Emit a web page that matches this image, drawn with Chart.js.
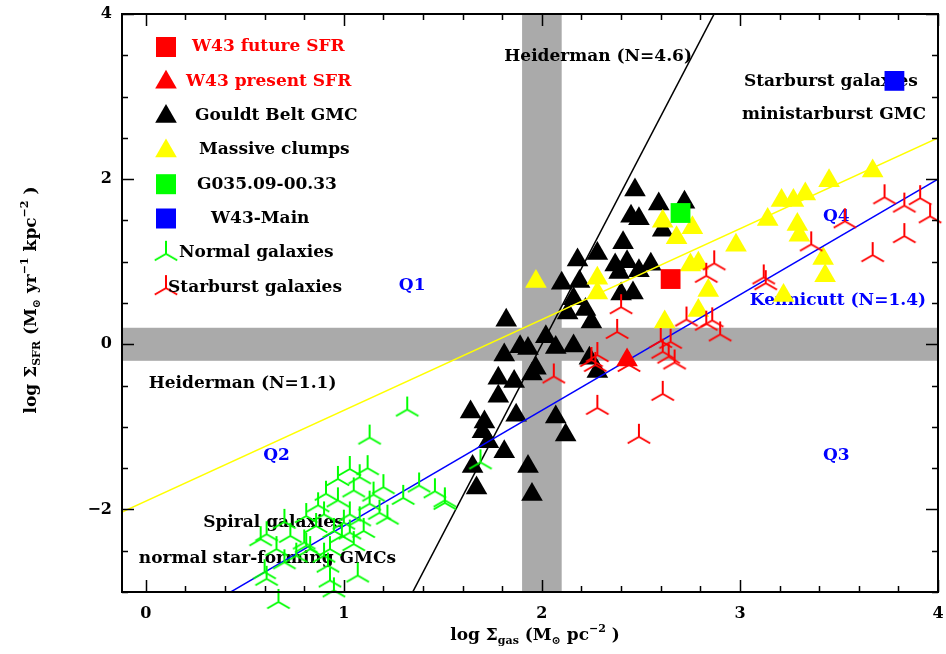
<!DOCTYPE html>
<html>
<head>
<meta charset="utf-8">
<script src="https://cdn.jsdelivr.net/npm/chart.js@4.4.1/dist/chart.umd.min.js"></script>
<style>
  html, body { margin: 0; padding: 0; background: #ffffff; }
  canvas { display: block; }
</style>
</head>
<body>
<canvas id="kschmidt" width="946" height="654"></canvas>
<script>
// ---- axis ranges and tick labels ----
const xRange = [-0.12, 4];
const yRange = [-3, 4];
const xTickValues = [0, 1, 2, 3, 4];
const yTickValues = [-2, 0, 2, 4];

// ---- data: [log Sigma_gas, log Sigma_SFR] ----
const w43Future = [[2.65, 0.79]];
const w43Present = [[2.43, -0.19]];
const g035 = [[2.70, 1.59]];
const w43Main = [[3.78, 3.19]];

const gouldBelt = [
  [2.47, 1.87], [2.59, 1.70], [2.72, 1.72], [2.45, 1.55], [2.49, 1.52], [2.61, 1.38],
  [2.41, 1.23], [2.43, 1.00], [2.49, 0.89], [2.55, 0.97], [2.39, 0.87], [2.37, 0.96],
  [2.46, 0.62], [2.40, 0.61], [2.28, 1.10], [2.18, 1.02], [2.10, 0.74], [2.19, 0.76],
  [2.16, 0.55], [2.22, 0.42], [2.13, 0.38], [2.25, 0.27], [1.82, 0.29], [2.02, 0.09],
  [2.07, -0.04], [2.16, -0.02], [1.89, -0.03], [1.93, -0.05], [1.81, -0.13], [1.97, -0.29],
  [1.95, -0.36], [2.28, -0.33], [2.24, -0.17], [1.78, -0.41], [1.86, -0.45], [1.78, -0.63],
  [1.64, -0.82], [1.71, -0.94], [1.70, -1.06], [1.73, -1.18], [1.87, -0.86], [1.81, -1.30],
  [1.65, -1.48], [1.67, -1.74], [1.93, -1.48], [1.95, -1.82], [2.07, -0.88], [2.12, -1.10]
];

const massiveClumps = [
  [3.67, 2.10], [3.45, 1.98], [3.33, 1.82], [3.27, 1.74], [3.21, 1.74], [3.14, 1.51],
  [3.29, 1.45], [3.30, 1.32], [2.98, 1.20], [3.42, 1.04], [3.43, 0.83], [2.79, 0.98],
  [2.75, 0.96], [2.84, 0.65], [3.22, 0.59], [2.79, 0.41], [2.62, 0.27], [2.61, 1.49],
  [2.76, 1.41], [2.68, 1.29], [1.97, 0.76], [2.28, 0.80], [2.28, 0.62]
];

const normalGalaxies = [
  [1.32, -0.79], [1.13, -1.13], [1.03, -1.51], [1.12, -1.50], [0.97, -1.63], [1.08, -1.61],
  [1.20, -1.73], [1.38, -1.71], [1.46, -1.78], [1.51, -1.92], [1.30, -1.86], [0.91, -1.81],
  [1.05, -1.77], [0.97, -1.89], [1.13, -1.93], [0.90, -2.06], [1.03, -2.06], [1.08, -2.12],
  [1.18, -2.04], [0.81, -2.08], [0.70, -2.15], [0.61, -2.30], [0.73, -2.32], [0.80, -2.40],
  [0.95, -2.26], [1.03, -2.28], [1.10, -2.26], [0.83, -2.48], [0.90, -2.56], [0.93, -2.48],
  [0.99, -2.32], [0.66, -2.48], [0.58, -2.36], [0.60, -2.76], [0.61, -2.84], [0.67, -3.12],
  [1.07, -2.80], [0.93, -2.86], [0.95, -2.98], [0.92, -2.68], [0.81, -2.44], [0.235, -3.55],
  [1.69, -1.43], [1.51, -1.89], [0.86, -2.20], [1.00, -2.16], [0.76, -2.56], [1.15, -1.82],
  [0.87, -1.95], [1.22, -2.10], [1.05, -2.42], [0.70, -2.64]
];

const starburstGalaxies = [
  [3.73, 1.78], [3.83, 1.68], [3.91, 1.77], [3.96, 1.55], [3.53, 1.49], [3.83, 1.31],
  [3.67, 1.08], [3.36, 1.21], [3.12, 0.81], [3.13, 0.74], [2.87, 0.98], [2.83, 0.83],
  [2.86, 0.29], [2.83, 0.25], [2.90, 0.12], [2.73, 0.30], [2.60, 0.04], [2.65, 0.03],
  [2.61, -0.09], [2.64, -0.15], [2.67, -0.22], [2.61, -0.60], [2.40, 0.45], [2.38, 0.15],
  [2.28, -0.13], [2.27, -0.25], [2.25, -0.19], [2.44, -0.25], [2.06, -0.39], [2.28, -0.77],
  [2.49, -1.12]
];

// star-formation relations: log SFR = slope * log gas + intercept
const heiderman11 = { slope: 1.1, intercept: -1.9 };
const kennicutt14 = { slope: 1.4, intercept: -3.6 };
const heiderman46 = { slope: 4.6, intercept: -9.2 };

// threshold bands (log gas ~ 2, log SFR ~ 0)
const gasThreshold = [1.9, 2.1];
const sfrThreshold = [-0.2, 0.2];

// ---- styling helpers ----
const FONT = '"DejaVu Serif"';
const toXY = arr => arr.map(p => ({ x: p[0], y: p[1] }));
const relationLine = r => xRange.map(x => ({ x: x, y: r.slope * x + r.intercept }));

function makeStar(color) {
  const c = document.createElement('canvas');
  c.width = 32; c.height = 32;
  const g = c.getContext('2d');
  g.strokeStyle = color; g.lineWidth = 2;
  const cx = 16, cy = 16, L = 13, s = Math.sin(Math.PI / 3);
  g.beginPath();
  g.moveTo(cx, cy); g.lineTo(cx, cy - L);
  g.moveTo(cx, cy); g.lineTo(cx - L * s, cy + L * 0.5);
  g.moveTo(cx, cy); g.lineTo(cx + L * s, cy + L * 0.5);
  g.stroke();
  return c;
}
const greenStar = makeStar('#00ff00');
const redStar = makeStar('#ff0000');

function fmtTick(v) { return v < 0 ? '\u2212' + Math.abs(v) : String(v); }

// ---- texts inside the plot (positioned in data coordinates) ----
const plotTexts = [
  { t: 'Heiderman (N=4.6)', x: 1.81, y: 3.49, c: '#000000', a: 'left' },
  { t: 'Starburst galaxies', x: 3.02, y: 3.18, c: '#000000', a: 'left' },
  { t: 'ministarburst GMC', x: 3.01, y: 2.78, c: '#000000', a: 'left' },
  { t: 'Q1', x: 1.345, y: 0.71, c: '#0000ff', a: 'center' },
  { t: 'Q4', x: 3.486, y: 1.55, c: '#0000ff', a: 'center' },
  { t: 'Kennicutt (N=1.4)', x: 3.05, y: 0.53, c: '#0000ff', a: 'left' },
  { t: 'Heiderman (N=1.1)', x: 0.015, y: -0.48, c: '#000000', a: 'left' },
  { t: 'Q2', x: 0.66, y: -1.35, c: '#0000ff', a: 'center' },
  { t: 'Q3', x: 3.486, y: -1.35, c: '#0000ff', a: 'center' },
  { t: 'Spiral galaxies', x: 0.29, y: -2.16, c: '#000000', a: 'left' },
  { t: 'normal star-forming GMCs', x: -0.035, y: -2.59, c: '#000000', a: 'left' }
];

// ---- legend entries ----
const legendEntries = [
  { label: 'W43 future SFR', sym: 'square', color: '#ff0000', text: '#ff0000', tx: 192 },
  { label: 'W43 present SFR', sym: 'triangle', color: '#ff0000', text: '#ff0000', tx: 186 },
  { label: 'Gouldt Belt GMC', sym: 'triangle', color: '#000000', text: '#000000', tx: 195 },
  { label: 'Massive clumps', sym: 'triangle', color: '#ffff00', text: '#000000', tx: 199 },
  { label: 'G035.09-00.33', sym: 'square', color: '#00ff00', text: '#000000', tx: 197 },
  { label: 'W43-Main', sym: 'square', color: '#0000ff', text: '#000000', tx: 211 },
  { label: 'Normal galaxies', sym: 'star', img: greenStar, text: '#000000', tx: 179 },
  { label: 'Starburst galaxies', sym: 'star', img: redStar, text: '#000000', tx: 168 }
];

// background bands, texts and legend (under the data)
const underlay = {
  id: 'underlay',
  beforeDatasetsDraw(chart) {
    const { ctx, chartArea: a, scales: { x, y } } = chart;
    ctx.save();
    ctx.fillStyle = '#aaaaaa';
    const bx0 = x.getPixelForValue(gasThreshold[0]), bx1 = x.getPixelForValue(gasThreshold[1]);
    ctx.fillRect(bx0, a.top, bx1 - bx0, a.bottom - a.top);
    const by0 = y.getPixelForValue(sfrThreshold[1]), by1 = y.getPixelForValue(sfrThreshold[0]);
    ctx.fillRect(a.left, by0, a.right - a.left, by1 - by0);

    ctx.font = 'bold 17px ' + FONT;
    ctx.textBaseline = 'middle';
    plotTexts.forEach(p => {
      ctx.fillStyle = p.c;
      ctx.textAlign = p.a;
      ctx.fillText(p.t, x.getPixelForValue(p.x), y.getPixelForValue(p.y));
    });

    // legend
    const lx = 166, ly0 = 47, dy = 34.3;
    legendEntries.forEach((e, i) => {
      const cy = ly0 + i * dy;
      if (e.sym === 'square') {
        ctx.fillStyle = e.color;
        ctx.fillRect(lx - 10, cy - 10, 20, 20);
      } else if (e.sym === 'triangle') {
        const r = 12.5, c0 = cy + 1;
        ctx.fillStyle = e.color;
        ctx.beginPath();
        ctx.moveTo(lx, c0 - r);
        ctx.lineTo(lx + r * Math.sin(2 * Math.PI / 3), c0 + r / 2);
        ctx.lineTo(lx - r * Math.sin(2 * Math.PI / 3), c0 + r / 2);
        ctx.closePath();
        ctx.fill();
      } else {
        ctx.drawImage(e.img, lx - 16, cy - 16 + 1);
      }
      ctx.fillStyle = e.text;
      ctx.textAlign = 'left';
      ctx.fillText(e.label, e.tx, cy);
    });
    ctx.restore();
  }
};

function drawRich(ctx, parts, cx, baseline) {
  let total = 0;
  parts.forEach(p => { ctx.font = 'bold ' + p[1] + 'px ' + FONT; p.w = ctx.measureText(p[0]).width; total += p.w; });
  let px = cx - total / 2;
  ctx.textAlign = 'left';
  ctx.textBaseline = 'alphabetic';
  parts.forEach(p => {
    ctx.font = 'bold ' + p[1] + 'px ' + FONT;
    ctx.fillText(p[0], px, baseline + p[2]);
    px += p.w;
  });
}

// frame with inward ticks on all sides, and axis titles
const frame = {
  id: 'frame',
  afterDatasetsDraw(chart) {
    const { ctx, chartArea: a, scales: { x, y } } = chart;
    ctx.save();
    ctx.strokeStyle = '#000000';
    ctx.lineWidth = 2;
    ctx.strokeRect(a.left, a.top, a.right - a.left, a.bottom - a.top);
    ctx.lineWidth = 1.5;
    ctx.beginPath();
    const eps = 1e-6;
    for (let v = 0; v <= xRange[1] + eps; v += 0.2) {
      const px = Math.round(x.getPixelForValue(v)) + 0.5;
      const major = Math.abs(v - Math.round(v)) < eps;
      const len = major ? 12 : 6;
      ctx.moveTo(px, a.bottom); ctx.lineTo(px, a.bottom - len);
      ctx.moveTo(px, a.top); ctx.lineTo(px, a.top + len);
    }
    for (let v = yRange[0]; v <= yRange[1] + eps; v += 0.5) {
      const py = Math.round(y.getPixelForValue(v)) + 0.5;
      const major = Math.abs(v / 2 - Math.round(v / 2)) < eps;
      const len = major ? 12 : 6;
      ctx.moveTo(a.left, py); ctx.lineTo(a.left + len, py);
      ctx.moveTo(a.right, py); ctx.lineTo(a.right - len, py);
    }
    ctx.stroke();

    ctx.fillStyle = '#000000';
    drawRich(ctx, [
      ['log \u03a3', 17, 0], ['gas', 11, 4], [' (M', 17, 0], ['\u2299', 11, 4],
      [' pc', 17, 0], ['\u2212', 11, -8], ['2', 11, -8], [' )', 17, 0]
    ], 535, 640);

    ctx.translate(36, 300);
    ctx.rotate(-Math.PI / 2);
    drawRich(ctx, [
      ['log \u03a3', 17, 0], ['SFR', 11, 4], [' (M', 17, 0], ['\u2299', 11, 4],
      [' yr', 17, 0], ['\u22121', 11, -8], [' kpc', 17, 0], ['\u22122', 11, -8], [' )', 17, 0]
    ], 0, 0);
    ctx.restore();
  }
};

const triangleSet = (label, data, color, order) => ({
  label, data: toXY(data), pointStyle: 'triangle', pointRadius: 12.5,
  backgroundColor: color, borderColor: color, borderWidth: 0, order, clip: false, showLine: false
});
const squareSet = (label, data, color, order) => ({
  label, data: toXY(data), pointStyle: 'rect', pointRadius: 14,
  backgroundColor: color, borderColor: color, borderWidth: 0, order, clip: false, showLine: false
});
const starSet = (label, data, img, order) => ({
  label, data: toXY(data), pointStyle: img, pointRadius: 13, order, clip: false, showLine: false
});
const lineSet = (label, rel, color, order) => ({
  type: 'line', label, data: relationLine(rel), borderColor: color, borderWidth: 1.5,
  pointRadius: 0, fill: false, order, tension: 0
});

// axes keep a fixed size and add no extra edge padding
const fixAxis = size => s => {
  if (s.isHorizontal()) s.height = size; else s.width = size;
  s.paddingTop = 0; s.paddingBottom = 0; s.paddingLeft = 0; s.paddingRight = 0;
};

new Chart(document.getElementById('kschmidt'), {
  type: 'scatter',
  data: {
    datasets: [
      squareSet('W43 future SFR', w43Future, '#ff0000', 0),
      triangleSet('W43 present SFR', w43Present, '#ff0000', 1),
      squareSet('G035.09-00.33', g035, '#00ff00', 2),
      squareSet('W43-Main', w43Main, '#0000ff', 3),
      starSet('Starburst galaxies', starburstGalaxies, redStar, 4),
      starSet('Normal galaxies', normalGalaxies, greenStar, 5),
      lineSet('Kennicutt (N=1.4)', kennicutt14, '#0000ff', 6),
      lineSet('Heiderman (N=1.1)', heiderman11, '#ffff00', 7),
      lineSet('Heiderman (N=4.6)', heiderman46, '#000000', 8),
      triangleSet('Massive clumps', massiveClumps, '#ffff00', 9),
      triangleSet('Gouldt Belt GMC', gouldBelt, '#000000', 10)
    ]
  },
  options: {
    responsive: false,
    animation: false,
    devicePixelRatio: 1,
    events: [],
    layout: { autoPadding: false, padding: { left: 0, right: 8, top: 14, bottom: 0 } },
    plugins: { legend: { display: false }, tooltip: { enabled: false } },
    scales: {
      x: {
        type: 'linear', min: xRange[0], max: xRange[1],
        grid: { display: false, drawTicks: false }, border: { display: false },
        ticks: { color: '#000', padding: 12, font: { family: FONT, size: 16, weight: 'bold' }, callback: fmtTick },
        afterBuildTicks: s => { s.ticks = xTickValues.map(v => ({ value: v })); },
        afterFit: fixAxis(62)
      },
      y: {
        type: 'linear', min: yRange[0], max: yRange[1],
        grid: { display: false, drawTicks: false }, border: { display: false },
        ticks: { color: '#000', padding: 10, font: { family: FONT, size: 16, weight: 'bold' }, callback: fmtTick },
        afterBuildTicks: s => { s.ticks = yTickValues.map(v => ({ value: v })); },
        afterFit: fixAxis(122)
      }
    }
  },
  plugins: [underlay, frame]
});
</script>
</body>
</html>
